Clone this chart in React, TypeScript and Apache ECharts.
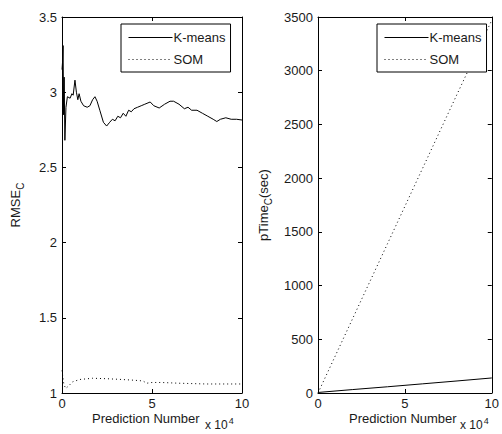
import React, { useEffect, useRef } from "react";
import * as echarts from "echarts";

// Left panel: RMSE_C vs prediction number (x in units of 10^4)
const kmRmseX = [0, 0.03, 0.06, 0.09, 0.12, 0.16, 0.22, 0.3, 0.45, 0.55, 0.62, 0.72, 0.8, 0.88, 0.95, 1.05, 1.2, 1.4, 1.55, 1.7, 1.83, 1.95, 2.1, 2.3, 2.48, 2.65, 2.8, 2.95, 3.1, 3.25, 3.4, 3.55, 3.7, 3.85, 4.0, 4.2, 4.4, 4.6, 4.9, 5.1, 5.4, 5.7, 6.0, 6.2, 6.5, 6.8, 7.0, 7.2, 7.5, 7.8, 8.1, 8.4, 8.6, 8.8, 9.1, 9.4, 9.7, 10];
const kmRmseY = [3.15, 3.2, 3.31, 2.85, 3.1, 2.68, 2.9, 2.97, 2.96, 2.99, 2.98, 3.08, 3.0, 2.95, 2.99, 2.94, 2.91, 2.9, 2.91, 2.95, 2.97, 2.94, 2.88, 2.8, 2.775, 2.8, 2.82, 2.81, 2.84, 2.83, 2.86, 2.84, 2.88, 2.87, 2.89, 2.9, 2.91, 2.92, 2.935, 2.91, 2.895, 2.92, 2.94, 2.94, 2.92, 2.89, 2.9, 2.88, 2.88, 2.86, 2.84, 2.82, 2.805, 2.82, 2.83, 2.82, 2.82, 2.815];
const somRmseX = [0, 0.1, 0.2, 0.35, 0.6, 1.0, 1.7, 2.5, 3.3, 4.0, 4.5, 4.7, 5.0, 5.5, 6.5, 8.0, 10];
const somRmseY = [1.15, 1.06, 1.03, 1.045, 1.075, 1.09, 1.098, 1.095, 1.09, 1.085, 1.08, 1.065, 1.07, 1.07, 1.065, 1.06, 1.06];

// Right panel: pTime_C (sec)
const timeX = [0, 2, 4, 6, 8, 10];
const kmTime = [5, 32, 58, 85, 112, 140];
const somTime = [0, 695, 1390, 2085, 2780, 3470];

const seriesNames = ["K-means", "SOM"];
const xTicks = { min: 0, max: 10, interval: 5 };
const rmseTicks = { min: 1, max: 3.5, interval: 0.5 };
const timeTicks = { min: 0, max: 3500, interval: 500 };

const FONT = "Arial, 'Liberation Sans', sans-serif";
const TXT = "#1a1a1a";
const FS = 13;

function pairs(xs: number[], ys: number[]) {
  return xs.map((x, i) => [x, ys[i]]);
}

function xAxisPair(gridIndex: number) {
  const base = {
    type: "value" as const,
    gridIndex,
    ...xTicks,
    splitLine: { show: false },
    axisLine: { show: true, onZero: false, lineStyle: { color: "#000", width: 1 } },
    axisTick: { show: true, inside: true, length: 4, lineStyle: { color: "#000" } },
  };
  return [
    {
      ...base,
      position: "bottom",
      axisLabel: {
        show: true,
        color: TXT,
        fontSize: FS,
        lineHeight: 13,
        fontFamily: FONT,
        margin: 4,
        formatter: (v: number) => String(v),
      },
    },
    { ...base, position: "top", axisLabel: { show: false } },
  ];
}

function yAxisPair(gridIndex: number, ticks: any, name: string, nameGap: number) {
  const base = {
    type: "value" as const,
    gridIndex,
    ...ticks,
    splitLine: { show: false },
    axisLine: { show: true, onZero: false, lineStyle: { color: "#000", width: 1 } },
    axisTick: { show: true, inside: true, length: 4, lineStyle: { color: "#000" } },
  };
  return [
    {
      ...base,
      position: "left",
      name,
      nameLocation: "middle",
      nameGap,
      nameTextStyle: {
        color: TXT,
        fontSize: FS,
        fontFamily: FONT,
        rich: {
          sub: { fontSize: 10, fontFamily: FONT, color: TXT, padding: [9, 0, 0, 0] },
        },
      },
      axisLabel: {
        show: true,
        color: TXT,
        fontSize: FS,
        fontFamily: FONT,
        margin: 5,
        formatter: (v: number) => String(v),
      },
    },
    { ...base, position: "right", axisLabel: { show: false } },
  ];
}

function legendAt(left: number) {
  return {
    show: true,
    data: seriesNames,
    orient: "vertical",
    left,
    top: 24,
    padding: [7, 5, 6, 7],
    itemGap: 9,
    itemWidth: 44,
    itemHeight: 13,
    backgroundColor: "#fff",
    borderColor: "#000",
    borderWidth: 1,
    borderRadius: 0,
    itemStyle: { opacity: 0 },
    lineStyle: { width: 1 },
    textStyle: { color: TXT, fontSize: FS, fontFamily: FONT, padding: [0, 0, 0, -4] },
    selectedMode: false,
  };
}

export default function App() {
  const ref = useRef<HTMLDivElement>(null);

  useEffect(() => {
    if (!ref.current) return;
    const chart = echarts.init(ref.current, undefined, { renderer: "svg" });
    const solid = { color: "#000", width: 1, type: "solid" as const };
    const dotted = { color: "#000", width: 1, type: [1, 3] as any };
    const mkSeries = (name: string, axis: number, xs: number[], ys: number[], ls: any) => ({
      name,
      type: "line",
      xAxisIndex: axis,
      yAxisIndex: axis,
      symbol: "none",
      data: pairs(xs, ys),
      lineStyle: ls,
      itemStyle: { color: "#000" },
    });
    const xLabel = (left: number, supLeft: number) => [
      {
        type: "text",
        left,
        top: 412,
        style: { text: "Prediction Number", fill: TXT, font: `${FS}px ${FONT}`, lineHeight: 13 },
      },
      {
        type: "text",
        left: supLeft,
        top: 416,
        style: {
          text: "x 10{sup|4}",
          fill: TXT,
          font: `12px ${FONT}`,
          rich: { sup: { fontSize: 9, fontFamily: FONT, fill: TXT, padding: [0, 0, 8, 1] } },
        },
      },
    ];
    chart.setOption({
      animation: false,
      backgroundColor: "#fff",
      grid: [
        { left: 62, top: 17, width: 180, height: 376, containLabel: false },
        { left: 318, top: 17, width: 180, height: 376, containLabel: false },
      ],
      xAxis: [...xAxisPair(0), ...xAxisPair(1)],
      yAxis: [
        ...yAxisPair(0, rmseTicks, "RMSE{sub|C}", 37),
        ...yAxisPair(1, timeTicks, "pTime{sub|C}(sec)", 45),
      ],
      legend: [legendAt(121), legendAt(377)],
      series: [
        mkSeries(seriesNames[0], 0, kmRmseX, kmRmseY, solid),
        mkSeries(seriesNames[1], 0, somRmseX, somRmseY, dotted),
        mkSeries(seriesNames[0], 2, timeX, kmTime, solid),
        mkSeries(seriesNames[1], 2, timeX, somTime, dotted),
      ],
      graphic: [...xLabel(92, 205), ...xLabel(349, 460)],
    });
    return () => chart.dispose();
  }, []);

  return (
    <div
      ref={ref}
      style={{ position: "fixed", left: 0, top: 0, width: 502, height: 434, background: "#fff" }}
    />
  );
}
